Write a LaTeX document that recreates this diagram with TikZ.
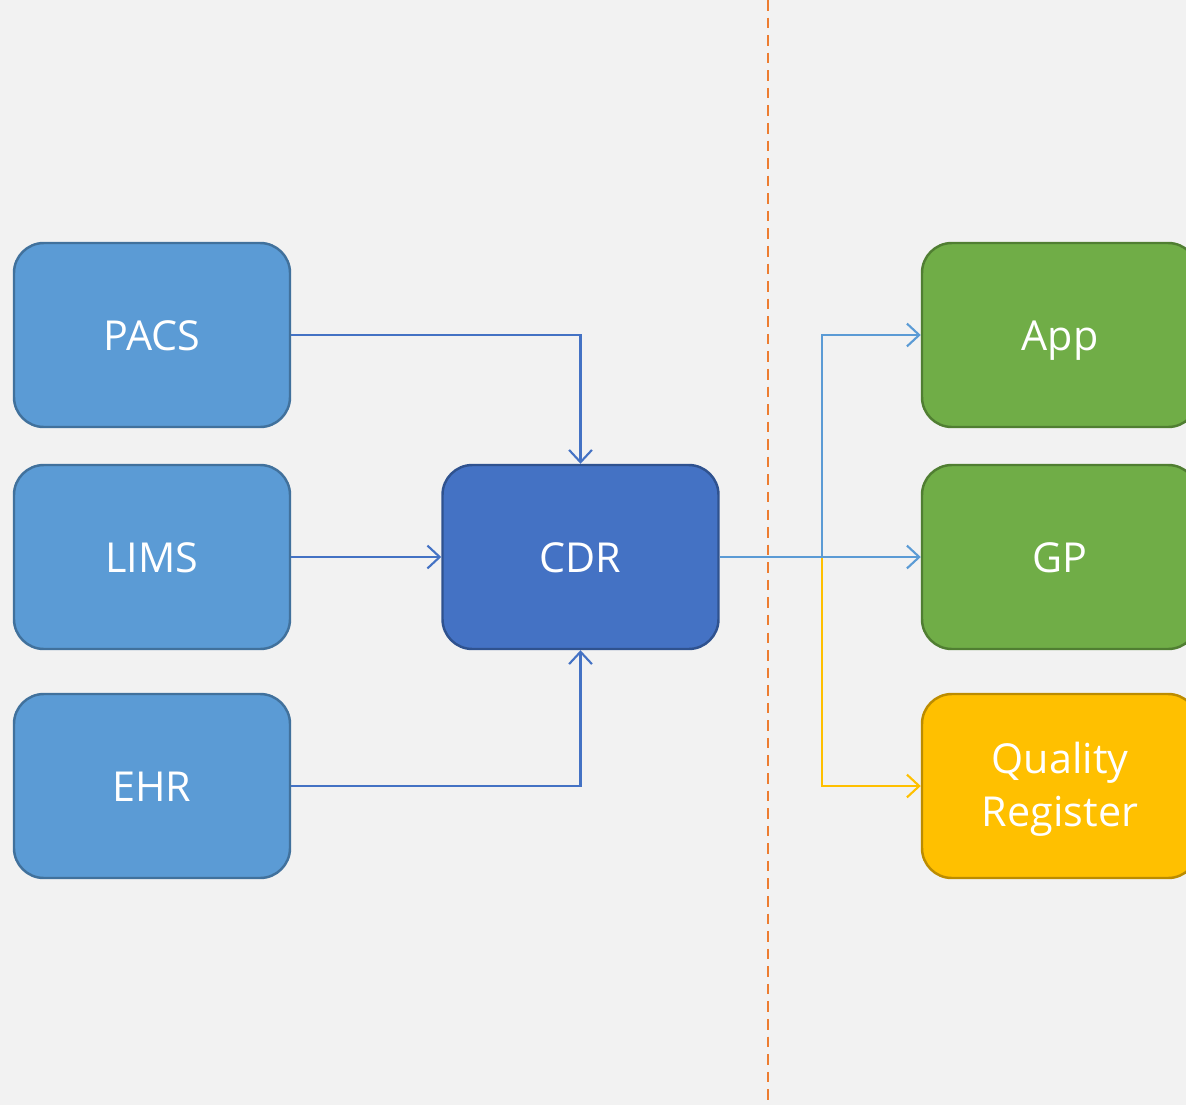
\documentclass[tikz,border=0pt]{standalone}
\usepackage{fontspec}
\setmainfont{Open Sans}
\usetikzlibrary{arrows.meta}
\definecolor{bg}{HTML}{F2F2F2}
\definecolor{srcfill}{HTML}{5B9BD5}
\definecolor{srcline}{HTML}{41719C}
\definecolor{hubfill}{HTML}{4472C4}
\definecolor{hubline}{HTML}{2F528F}
\definecolor{grnfill}{HTML}{70AD47}
\definecolor{grnline}{HTML}{507E32}
\definecolor{ylwfill}{HTML}{FFC000}
\definecolor{ylwline}{HTML}{BC8C00}
\definecolor{divider}{HTML}{ED7D31}
\tikzset{
  box/.style={rounded corners=17pt, line width=1.4pt, minimum width=276*0.02cm,
    minimum height=184*0.02cm, text=white, align=center, inner sep=0pt,
    text height=19pt, text depth=0.9pt,
    font=\fontsize{23.5}{30.6}\selectfont},
  srcbox/.style={box, fill=srcfill, draw=srcline},
  hubbox/.style={box, fill=hubfill, draw=hubline},
  grnbox/.style={box, fill=grnfill, draw=grnline},
  % two-line label: the last baseline sits lower in the box
  ylwbox/.style={box, fill=ylwfill, draw=ylwline, text height=47.4pt, text depth=0.9pt},
  link/.style={line width=1.2pt, -{Straight Barb[length=7pt, width=13pt, line width=1.2pt]}},
}
\begin{document}
\begin{tikzpicture}[x=0.02cm, y=-0.02cm]
  % canvas
  \fill[bg] (0,0) rectangle (1186,1105);
  \useasboundingbox (0,0) rectangle (1186,1105);
  \clip (0,0) rectangle (1186,1105);

  % divider between sources and consumers
  \coordinate (divtop) at (768,0);
  \coordinate (divbot) at (768,1105);
  \draw[divider, line width=1.2pt, dash pattern=on 6pt off 4pt] (divtop) -- (divbot);

  % sources
  \node[srcbox] (pacs) at (152,335) {PACS};
  \node[srcbox] (lims) at (152,557) {LIMS};
  \node[srcbox] (ehr)  at (152,786) {EHR};

  % clinical data repository
  \node[hubbox] (cdr) at (580.5,557) {CDR};

  % consumers
  \node[grnbox] (app) at (1060,335) {App};
  \node[grnbox] (gp)  at (1060,557) {GP};
  \node[ylwbox] (qr)  at (1060,786) {Quality\\Register};

  % inbound flows
  \draw[link, hubfill] (pacs.east) -| (cdr.north);
  \draw[link, hubfill] (lims.east) -- (cdr.west);
  \draw[link, hubfill] (ehr.east) -| (cdr.south);

  % outbound flows
  \draw[link, ylwfill] (cdr.east) -- ++(102,0) |- (qr.west);
  \draw[link, srcfill] (cdr.east) -- ++(102,0) |- (app.west);
  \draw[link, srcfill] (cdr.east) -- (gp.west);
\end{tikzpicture}
\end{document}
